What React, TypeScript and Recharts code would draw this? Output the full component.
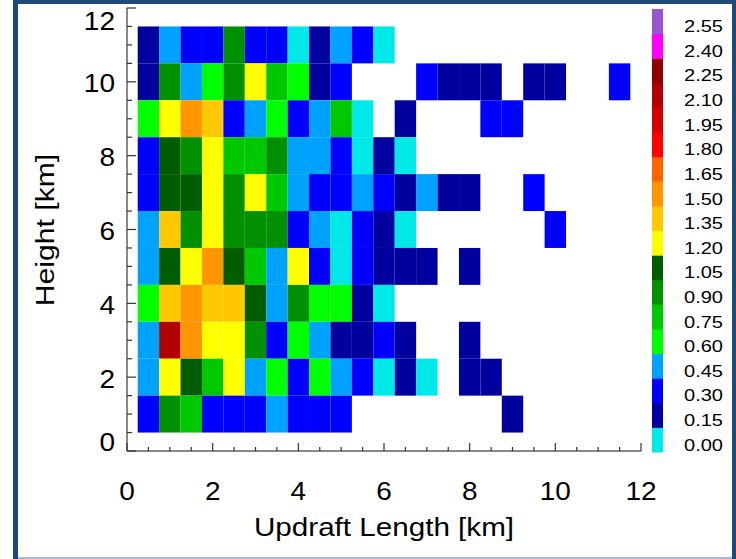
import React from "react";
import { Scatter, ScatterChart, XAxis, YAxis } from "recharts";

const W = 736;
const H = 559;
const FONT = '"Liberation Sans", Arial, Helvetica, sans-serif';

// bin centres: updraft length (km) across, height (km) down the rows
const lengths = [0.5, 1.0, 1.5, 2.0, 2.5, 3.0, 3.5, 4.0, 4.5, 5.0, 5.5, 6.0, 6.5, 7.0, 7.5, 8.0, 8.5, 9.0, 9.5, 10.0, 10.5, 11.0, 11.5];
const heights = [11, 10, 9, 8, 7, 6, 5, 4, 3, 2, 1];

// one row per height, null = no samples in that bin
const n = null;
const h11 = [0.15, 0.45, 0.3, 0.3, 0.9, 0.3, 0.3, 0.0, 0.15, 0.45, 0.3, 0.0, n, n, n, n, n, n, n, n, n, n, n];
const h10 = [0.15, 0.9, 0.45, 0.6, 0.9, 1.2, 0.75, 0.6, 0.15, 0.3, n, n, n, 0.3, 0.15, 0.15, 0.15, n, 0.15, 0.15, n, n, 0.3];
const h9 = [0.6, 1.2, 1.5, 1.35, 0.3, 0.45, 0.6, 0.3, 0.45, 0.75, 0.0, n, 0.15, n, n, n, 0.3, 0.3, n, n, n, n, n];
const h8 = [0.3, 1.05, 0.9, 1.2, 0.75, 0.75, 0.9, 0.45, 0.45, 0.3, 0.0, 0.15, 0.0, n, n, n, n, n, n, n, n, n, n];
const h7 = [0.3, 1.05, 1.05, 1.2, 0.9, 1.2, 0.75, 0.45, 0.3, 0.3, 0.45, 0.3, 0.15, 0.45, 0.15, 0.15, n, n, 0.3, n, n, n, n];
const h6 = [0.45, 1.35, 0.9, 1.2, 0.9, 0.9, 0.9, 0.3, 0.45, 0.0, 0.3, 0.15, 0.0, n, n, n, n, n, n, 0.3, n, n, n];
const h5 = [0.45, 1.05, 1.2, 1.5, 1.05, 0.75, 0.45, 1.2, 0.3, 0.0, 0.3, 0.15, 0.15, 0.15, n, 0.15, n, n, n, n, n, n, n];
const h4 = [0.6, 1.35, 1.5, 1.35, 1.35, 1.05, 0.45, 0.9, 0.6, 0.6, 0.15, 0.0, n, n, n, n, n, n, n, n, n, n, n];
const h3 = [0.45, 2.1, 1.5, 1.2, 1.2, 0.9, 0.3, 0.6, 0.45, 0.15, 0.15, 0.3, 0.15, n, n, 0.15, n, n, n, n, n, n, n];
const h2 = [0.45, 1.2, 1.05, 0.75, 1.2, 0.45, 0.6, 0.3, 0.6, 0.45, 0.3, 0.0, 0.15, 0.0, n, 0.15, 0.15, n, n, n, n, n, n];
const h1 = [0.3, 0.9, 0.75, 0.3, 0.3, 0.3, 0.45, 0.3, 0.3, 0.3, n, n, n, n, n, n, n, 0.15, n, n, n, n, n];
const grid = [h11, h10, h9, h8, h7, h6, h5, h4, h3, h2, h1];

// colour table levels
const levels = [0.0, 0.15, 0.3, 0.45, 0.6, 0.75, 0.9, 1.05, 1.2, 1.35, 1.5, 1.65, 1.8, 1.95, 2.1, 2.25, 2.4, 2.55];
const levelColors = [
  "#00e8e8", "#00009e", "#0000ff", "#00a2ff", "#00ff00", "#00c800",
  "#009000", "#005c00", "#ffff00", "#ffc800", "#ff9600", "#ff6400",
  "#ff0000", "#d40000", "#b00000", "#8c0000", "#ff00ff", "#9955cc",
];
const levelStep = 0.15;

const axisTicks = [0, 0.5, 1, 1.5, 2, 2.5, 3, 3.5, 4, 4.5, 5, 5.5, 6, 6.5, 7, 7.5, 8, 8.5, 9, 9.5, 10, 10.5, 11, 11.5, 12];
const cellW = 0.5;
const cellH = 1;

// plot box in page pixels
const box = { left: 127, right: 641, top: 8, bottom: 451 };
const pxPerKmX = (box.right - box.left) / 12;
const pxPerKmY = (box.bottom - box.top) / 12;

const cells: { x: number; y: number; v: number }[] = [];
grid.forEach((row, i) =>
  row.forEach((v, j) => {
    if (v !== null) cells.push({ x: lengths[j], y: heights[i], v });
  })
);

const colorOf = (v: number) => levelColors[Math.min(levelColors.length - 1, Math.round(v / levelStep))];

const isMajor = (v: number) => Math.abs(v % 2) < 1e-6;

function Cell(props: any) {
  const { cx, cy, payload } = props;
  const w = cellW * pxPerKmX;
  const h = cellH * pxPerKmY;
  return <rect x={cx - w / 2} y={cy - h / 2} width={w} height={h} fill={colorOf(payload.v)} />;
}

function StretchText({ x, y, size, sx, anchor = "middle", rotate = 0, children }: any) {
  return (
    <text
      transform={`translate(${x},${y}) rotate(${rotate}) scale(${sx},1)`}
      textAnchor={anchor}
      dominantBaseline="central"
      fontSize={size}
      fontFamily={FONT}
      fill="#000"
    >
      {children}
    </text>
  );
}

function BottomTick({ x, y, payload }: any) {
  const major = isMajor(payload.value);
  return (
    <g>
      <line x1={x} x2={x} y1={y} y2={y - (major ? 8 : 4)} stroke="#333" strokeWidth={1.2} />
      {major && (
        <StretchText x={x} y={y + 41} size={25} sx={1.12}>
          {payload.value}
        </StretchText>
      )}
    </g>
  );
}

function TopTick({ x, y, payload }: any) {
  const major = isMajor(payload.value);
  return <line x1={x} x2={x} y1={y} y2={y + (major ? 8 : 4)} stroke="#333" strokeWidth={1.2} />;
}

function LeftTick({ x, y, payload }: any) {
  const major = isMajor(payload.value);
  const ly = Math.min(box.bottom - 8, Math.max(box.top + 14, y + 2));
  return (
    <g>
      <line x1={x} x2={x + (major ? 9 : 5)} y1={y} y2={y} stroke="#333" strokeWidth={1.2} />
      {major && (
        <StretchText x={x - 12} y={ly} size={25} sx={1.12} anchor="end">
          {payload.value}
        </StretchText>
      )}
    </g>
  );
}

function RightTick({ x, y, payload }: any) {
  const major = isMajor(payload.value);
  return <line x1={x} x2={x - (major ? 10 : 5)} y1={y} y2={y} stroke="#333" strokeWidth={1.2} />;
}

function ColorBar() {
  const top = 9;
  const bottom = 452;
  const bh = (bottom - top) / levels.length;
  return (
    <g>
      {levels.map((lv, i) => {
        const y = bottom - (i + 1) * bh;
        return (
          <g key={lv}>
            <rect x={652} y={y} width={11} height={bh + 0.5} fill={levelColors[i]} />
            <StretchText x={684} y={y + bh / 2 + 5} size={17} sx={1.18} anchor="start">
              {lv.toFixed(2)}
            </StretchText>
          </g>
        );
      })}
    </g>
  );
}

export default function App() {
  const axisLine = { stroke: "#888", strokeWidth: 2 };
  return (
    <div style={{ position: "absolute", left: 0, top: 0, width: W, height: H, background: "#fff", overflow: "hidden" }}>
      <ScatterChart
        width={W}
        height={H}
        margin={{ top: box.top, left: box.left - 60, right: W - box.right, bottom: H - box.bottom - 60 }}
      >
        <XAxis
          xAxisId="b"
          type="number"
          dataKey="x"
          domain={[0, 12]}
          ticks={axisTicks}
          interval={0}
          height={60}
          tickSize={0}
          tickMargin={0}
          tickLine={false}
          axisLine={axisLine}
          tick={<BottomTick />}
          allowDataOverflow
        />
        <XAxis
          xAxisId="t"
          orientation="top"
          type="number"
          dataKey="x"
          domain={[0, 12]}
          ticks={axisTicks}
          interval={0}
          height={0}
          tickSize={0}
          tickMargin={0}
          tickLine={false}
          axisLine={axisLine}
          tick={<TopTick />}
          allowDataOverflow
        />
        <YAxis
          yAxisId="l"
          type="number"
          dataKey="y"
          domain={[0, 12]}
          ticks={axisTicks}
          interval={0}
          width={60}
          tickSize={0}
          tickMargin={0}
          tickLine={false}
          axisLine={axisLine}
          tick={<LeftTick />}
          allowDataOverflow
        />
        <YAxis
          yAxisId="r"
          orientation="right"
          type="number"
          dataKey="y"
          domain={[0, 12]}
          ticks={axisTicks}
          interval={0}
          width={0}
          tickSize={0}
          tickMargin={0}
          tickLine={false}
          axisLine={axisLine}
          tick={<RightTick />}
          allowDataOverflow
        />
        <Scatter xAxisId="b" yAxisId="l" data={cells} shape={<Cell />} isAnimationActive={false} />
      </ScatterChart>
      <svg width={W} height={H} style={{ position: "absolute", left: 0, top: 0, pointerEvents: "none" }}>
        <ColorBar />
        <StretchText x={384} y={527} size={26} sx={1.14}>
          Updraft Length [km]
        </StretchText>
        <StretchText x={45} y={230} size={26} sx={1.16} rotate={-90}>
          Height [km]
        </StretchText>
        {/* window frame */}
        <rect x={13} y={0} width={W - 13} height={4} fill="#1e4a7a" />
        <rect x={13} y={0} width={5} height={H} fill="#1e4a7a" />
        <rect x={732} y={0} width={4} height={H} fill="#1e4a7a" />
        <rect x={18} y={557} width={714} height={2} fill="#a9b8cc" />
      </svg>
    </div>
  );
}
